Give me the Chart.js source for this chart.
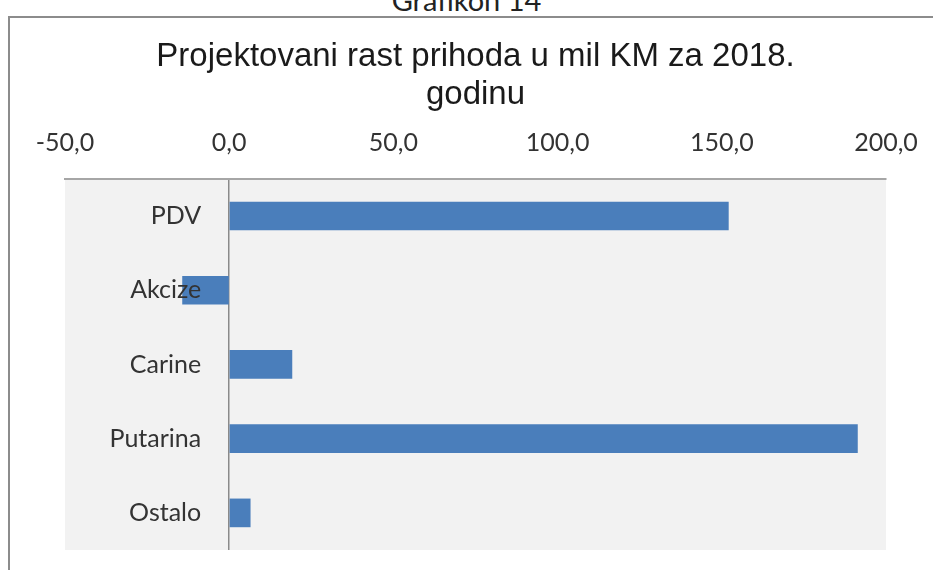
<!DOCTYPE html>
<html>
<head>
<meta charset="utf-8">
<script src="https://cdn.jsdelivr.net/npm/chart.js@4"></script>
<style>
  html, body { margin: 0; padding: 0; background: #fff; overflow: hidden; }
  #wrap { position: relative; width: 933px; height: 570px; }
  #cap { position: absolute; left: 0; top: -15px; width: 933px; text-align: center; font: 29px/29px Lato, "Open Sans", sans-serif; color: #222; }
  #frame { position: absolute; left: 8px; top: 16px; width: 960px; height: 600px; border: 2px solid #8c8c8c; box-sizing: border-box; }
  #c { position: absolute; left: 0; top: 0; }
</style>
</head>
<body>
<div id="wrap">
  <div id="cap">Grafikon 14</div>
  <div id="frame"></div>
  <canvas id="c" width="933" height="570"></canvas>
</div>
<script>
// ── Data ──────────────────────────────────────────────────────────────────────
const categories = ['PDV', 'Akcize', 'Carine', 'Putarina', 'Ostalo'];
const values     = [152.0, -14.2, 19.1, 191.3, 6.4];
const titleLines = ['Projektovani rast prihoda u mil KM za 2018.', 'godinu'];
const xMin = -50, xMax = 200, xStep = 50;

const labelFont = 'Lato, "Open Sans", sans-serif';

// gray plot background
const plotBg = {
    id: 'plotBg',
    beforeDraw(chart) {
        const { ctx, chartArea: a } = chart;
        ctx.save();
        ctx.fillStyle = '#f2f2f2';
        ctx.fillRect(a.left, a.top, a.right - a.left, a.bottom - a.top);
        ctx.restore();
    },
};

// category labels sit left of the zero line, on top of the bars (Excel style)
const catLabels = {
    id: 'catLabels',
    afterDatasetsDraw(chart) {
        const { ctx, scales: { x, y } } = chart;
        const x0 = x.getPixelForValue(0);
        ctx.save();
        ctx.font = '25px ' + labelFont;
        ctx.fillStyle = '#333';
        ctx.textAlign = 'right';
        ctx.textBaseline = 'middle';
        y.ticks.forEach((t, i) => {
            ctx.fillText(chart.data.labels[i], x0 - 28, y.getPixelForTick(i));
        });
        ctx.restore();
    },
};

new Chart(document.getElementById('c'), {
    type: 'bar',
    data: {
        labels: categories,
        datasets: [{ data: values, backgroundColor: '#4a7ebb', borderWidth: 0, barThickness: 28 }],
    },
    options: {
        indexAxis: 'y',
        responsive: false, animation: false,
        layout: { padding: { left: 65, right: 47, top: 38, bottom: 20 } },
        plugins: {
            legend: { display: false },
            tooltip: { enabled: false },
            title: {
                display: true, text: titleLines, color: '#1a1a1a',
                font: { family: '"Liberation Sans", Arial, sans-serif', size: 33, weight: 'normal', lineHeight: 1.15 },
                padding: { top: 0, bottom: -7 },
            },
        },
        scales: {
            x: {
                position: 'top', min: xMin, max: xMax,
                afterFit: s => { s.paddingLeft = 0; s.paddingRight = 0; },
                grid: { drawTicks: false, color: ctx => ctx.tick && ctx.tick.value === 0 ? '#8a8a8a' : 'transparent', lineWidth: 1.5 },
                border: { display: true, color: '#a6a6a6', width: 2 },
                ticks: { stepSize: xStep, padding: 21, color: '#333', font: { family: labelFont, size: 25 },
                         callback: v => v.toFixed(1).replace('.', ',') },
            },
            y: { display: false },
        },
    },
    plugins: [plotBg, catLabels],
});
</script>
</body>
</html>
